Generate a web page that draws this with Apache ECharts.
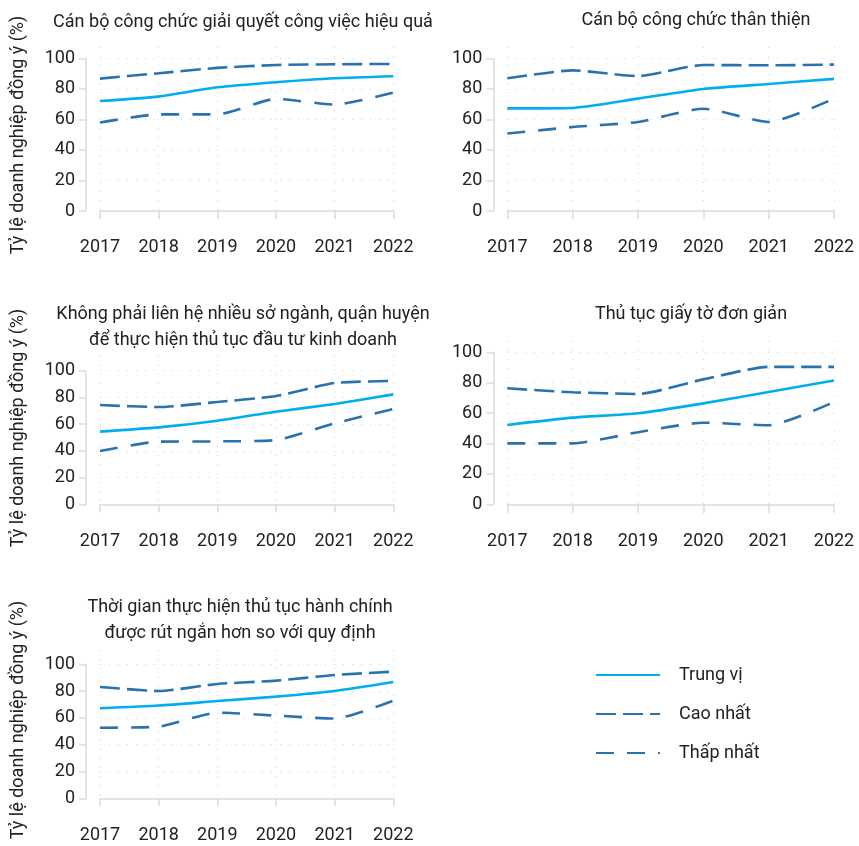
<!DOCTYPE html>
<html>
<head>
<meta charset="utf-8">
<script src="https://cdn.jsdelivr.net/npm/echarts@6/dist/echarts.min.js"></script>
<style>
html,body{margin:0;padding:0;background:#fff;}
#chart{width:859px;height:846px;}
</style>
</head>
<body>
<div id="chart"></div>
<script>
const years = ['2017', '2018', '2019', '2020', '2021', '2022'];
const yTicks = [0, 20, 40, 60, 80, 100];
const seriesNames = ['Trung vị', 'Cao nhất', 'Thấp nhất'];
const yAxisLabel = 'Tỷ lệ doanh nghiệp đồng ý (%)';

const titles = [
  'Cán bộ công chức giải quyết công việc hiệu quả',
  'Cán bộ công chức thân thiện',
  'Không phải liên hệ nhiều sở ngành, quận huyện\nđể thực hiện thủ tục đầu tư kinh doanh',
  'Thủ tục giấy tờ đơn giản',
  'Thời gian thực hiện thủ tục hành chính\nđược rút ngắn hơn so với quy định'
];

const median1 = [72.0, 74.9, 81.0, 84.3, 86.9, 88.2];
const high1   = [86.7, 90.2, 93.7, 95.6, 96.1, 96.3];
const low1    = [57.9, 63.3, 63.3, 73.4, 69.7, 77.5];

const median2 = [67.2, 67.5, 73.6, 79.9, 83.2, 86.5];
const high2   = [86.9, 92.1, 88.4, 95.6, 95.4, 95.9];
const low2    = [50.7, 55.0, 58.3, 67.0, 58.3, 73.6];

const median3 = [54.4, 57.6, 62.6, 69.3, 75.1, 82.3];
const high3   = [74.3, 72.8, 76.6, 81.0, 90.8, 92.3];
const low3    = [39.9, 46.9, 47.1, 48.1, 60.6, 71.3];

const median4 = [52.2, 57.0, 59.9, 66.4, 73.9, 81.4];
const high4   = [76.3, 73.7, 72.6, 82.2, 90.4, 90.4];
const low4    = [40.1, 40.1, 47.4, 53.7, 52.0, 67.3];

const median5 = [67.2, 69.2, 72.6, 75.9, 80.1, 86.8];
const high5   = [83.1, 80.1, 85.3, 87.8, 92.0, 94.5];
const low5    = [52.7, 53.5, 63.9, 61.7, 59.5, 72.9];

const panelData = [
  [median1, high1, low1],
  [median2, high2, low2],
  [median3, high3, low3],
  [median4, high4, low4],
  [median5, high5, low5]
];

// layout (px)
const layout = [
  {left: 100, width: 293.3, top: 58.3, height: 152.7, bgTop: 47, bgBottom: 221, off: 14.3, titleX: 238, titleY: 4, labX: 18, labY: 135},
  {left: 507.3, width: 326.7, top: 58.3, height: 152.7, bgTop: 47, bgBottom: 221, off: 14.3, titleX: 691, titleY: 2, labX: null},
  {left: 100, width: 293.3, top: 370.7, height: 133.6, bgTop: 356, bgBottom: 514, off: 15, titleX: 238, titleY: 296, labX: 18, labY: 428},
  {left: 507.3, width: 326.7, top: 352.3, height: 152, bgTop: 341, bgBottom: 514, off: 15, titleX: 686, titleY: 296, labX: null},
  {left: 100, width: 293.3, top: 664.3, height: 134, bgTop: 650, bgBottom: 808, off: 15, titleX: 235, titleY: 589, labX: 18, labY: 720}
];

const FONT = 'Roboto, "Noto Sans", sans-serif';
const TXT = '#222222';
const AXIS = '#dcdcdc';
const GRIDC = '#d4d4d4';
const C_MED = '#00aeef';
const C_DASH = '#2872b0';

const grids = [], xAxes = [], yAxes = [], series = [], titleArr = [], graphics = [];

layout.forEach((L, p) => {
  grids.push({left: L.left, width: L.width, top: L.bgTop, height: L.bgBottom - L.bgTop});
  grids.push({left: L.left, width: L.width, top: L.top, height: L.height});
  const bg = 2 * p, dg = 2 * p + 1;
  xAxes.push({
    type: 'category', gridIndex: bg, data: years, boundaryGap: false,
    axisLine: {show: false}, axisTick: {show: false}, axisLabel: {show: false},
    splitLine: {show: true, interval: 0, lineStyle: {color: GRIDC, width: 1, type: [1, 8]}}
  });
  yAxes.push({
    type: 'value', gridIndex: bg, min: 0, max: 1, show: false, splitLine: {show: false}
  });
  xAxes.push({
    type: 'category', gridIndex: dg, data: years, boundaryGap: false, offset: L.off,
    axisLine: {show: true, lineStyle: {color: AXIS, width: 1.5}},
    axisTick: {show: true, length: 8, interval: 0, lineStyle: {color: AXIS, width: 1.5}},
    axisLabel: {show: true, interval: 0, margin: 13, color: TXT, fontSize: 18, fontFamily: FONT},
    splitLine: {show: false}
  });
  yAxes.push({
    type: 'value', gridIndex: dg, min: 0, max: 100, interval: 20, offset: 14,
    axisLine: {show: true, lineStyle: {color: AXIS, width: 1.5}},
    axisTick: {show: true, length: 7, lineStyle: {color: AXIS, width: 1.5}},
    axisLabel: {show: true, margin: 11, color: TXT, fontSize: 18, fontFamily: FONT,
      formatter: v => yTicks.includes(v) ? String(v) : ''},
    splitLine: {show: true, lineStyle: {color: GRIDC, width: 1, type: [1, 8]}}
  });
  const d = panelData[p];
  const styles = [
    {color: C_MED, type: 'solid'},
    {color: C_DASH, type: [20, 7]},
    {color: C_DASH, type: [18, 13]}
  ];
  d.forEach((vals, k) => {
    series.push({
      name: seriesNames[k], type: 'line', xAxisIndex: dg, yAxisIndex: dg,
      data: vals, symbol: 'none', smooth: 0.2, silent: true,
      itemStyle: {color: styles[k].color},
      lineStyle: {color: styles[k].color, width: 2.6, type: styles[k].type, cap: 'butt'},
      z: k === 0 ? 4 : 3
    });
  });
  titleArr.push({
    text: titles[p], left: L.titleX, top: L.titleY, textAlign: 'center',
    textStyle: {fontSize: 18, fontWeight: 'normal', color: TXT, fontFamily: FONT, lineHeight: 26}
  });
  if (L.labX !== null) {
    graphics.push({
      type: 'text', x: L.labX, y: L.labY, rotation: Math.PI / 2,
      style: {text: yAxisLabel, fill: TXT, font: '18px ' + FONT, align: 'center', verticalAlign: 'middle'}
    });
  }
});

const chart = echarts.init(document.getElementById('chart'), null, {renderer: 'canvas'});
chart.setOption({
  animation: false,
  backgroundColor: '#ffffff',
  title: titleArr,
  grid: grids,
  xAxis: xAxes,
  yAxis: yAxes,
  series: series,
  graphic: graphics,
  legend: {
    data: seriesNames, orient: 'vertical', left: 595, top: 666, padding: 0,
    itemWidth: 64, itemHeight: 14, itemGap: 21,
    itemStyle: {opacity: 0},
    textStyle: {fontSize: 18, color: TXT, fontFamily: FONT, padding: [0, 0, 0, 14]},
    selectedMode: false
  }
});
</script>
</body>
</html>
